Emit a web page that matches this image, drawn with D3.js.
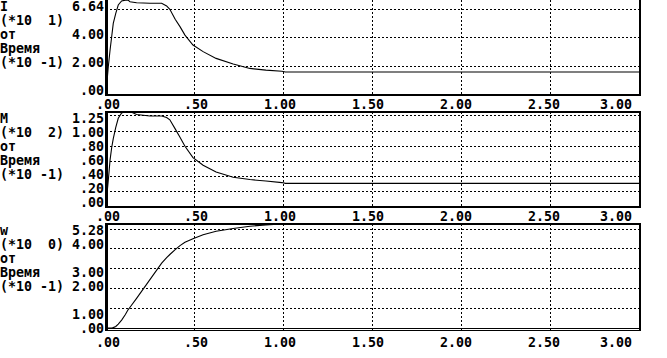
<!DOCTYPE html>
<html><head><meta charset="utf-8">
<script src="https://cdn.jsdelivr.net/npm/d3@7"></script>
<style>
body{margin:0;background:#fff}
svg{display:block}
text{font-family:"DejaVu Sans Mono",monospace;font-weight:bold;font-size:13.3px;fill:#000;white-space:pre}
</style>
</head><body><div id="chart"></div>
<script>
// ---- data ----
const time   = [0, 0.014, 0.024, 0.033, 0.042, 0.056, 0.07, 0.089, 0.11, 0.125, 0.136, 0.173, 0.248, 0.314, 0.342, 0.36, 0.39, 0.417, 0.445, 0.49, 0.547, 0.62, 0.716, 0.81, 0.90, 0.99, 1.01, 1.5, 2.0, 2.5, 3.0];
const seriesI = [0, 2.0, 3.16, 4.09, 5.02, 5.72, 6.3, 6.58, 6.64, 6.64, 6.53, 6.46, 6.42, 6.42, 6.23, 6.0, 5.3, 4.79, 4.2, 3.51, 3.05, 2.58, 2.19, 1.88, 1.76, 1.68, 1.63, 1.63, 1.63, 1.63, 1.63];
const seriesM = [0, 0.35, 0.62, 0.78, 0.9, 1.05, 1.17, 1.24, 1.26, 1.26, 1.26, 1.22, 1.2, 1.2, 1.18, 1.15, 1.03, 0.92, 0.8, 0.65, 0.55, 0.46, 0.39, 0.36, 0.34, 0.32, 0.31, 0.31, 0.31, 0.31, 0.31];
const seriesW = [0, 0, 0, 0, 0.02, 0.08, 0.2, 0.4, 0.68, 0.92, 1.05, 1.5, 2.45, 3.28, 3.56, 3.72, 3.97, 4.17, 4.34, 4.52, 4.72, 4.9, 5.04, 5.15, 5.22, 5.27, 5.28, 5.28, 5.28, 5.28, 5.28];

const xTicks = [0, 0.5, 1, 1.5, 2, 2.5, 3];
const xTickLabels = [".00", ".50", "1.00", "1.50", "2.00", "2.50", "3.00"];
const panelNames = ["I", "M", "w"];
const panelMult = ["(*10  1)", "(*10  2)", "(*10  0)"];
const argWord = "от";
const argName = "Время";
const argMult = "(*10 -1)";
const yMax = [6.64, 1.25, 5.28];
const yGrid = [[2, 4, 6], [0.2, 0.4, 0.6, 0.8, 1.0, 1.2], [1, 2, 3, 4, 5]];
const yTickValues = [[6.64, 4, 2, 0], [1.25, 1.0, 0.8, 0.6, 0.4, 0.2, 0], [5.28, 4, 3, 2, 1, 0]];
const allSeries = [seriesI, seriesM, seriesW];

// ---- layout ----
const W = 667, H = 358, ROW = 14, COL = 8;
const panels = [
  {top: 0.1, bottom: 95.4, row0: 0, topBorder: false, extraBase: 0},
  {top: 112.2, bottom: 206.8, row0: 8, topBorder: true, extraBase: 0},
  {top: 223.7, bottom: 328, row0: 16, topBorder: true, extraBase: 2.2}
];
const x = d3.scaleLinear().domain([0, 3]).range([105.8, 639.5]);
const labelCol = d3.scaleLinear().domain([0, 3]).range([13.5, 79.5]);
const fmt = v => d3.format(".2f")(v).replace(/^0\./, ".");
const baseline = r => r * ROW + 11;

const svg = d3.select("#chart").append("svg").attr("width", W).attr("height", H);
svg.append("rect").attr("width", W).attr("height", H).attr("fill", "#fff");

panels.forEach((p, i) => {
  const y = d3.scaleLinear().domain([0, yMax[i]]).range([p.bottom, p.top]);
  const g = svg.append("g");

  // left description text
  const lines = [panelNames[i], panelMult[i], argWord, argName, argMult];
  lines.forEach((t, k) => {
    g.append("text").attr("x", 0).attr("y", baseline(p.row0 + k)).text(t);
  });

  // y tick labels at character rows
  yTickValues[i].forEach(v => {
    const s = fmt(v);
    const r = Math.floor((y(v) + 1) / ROW);
    g.append("text").attr("x", (13 - s.length) * COL).attr("y", baseline(r)).text(s);
  });

  // grid
  const grid = g.append("g").attr("stroke", "#000").attr("stroke-width", 1)
    .attr("stroke-dasharray", "2,2").attr("shape-rendering", "crispEdges");
  yGrid[i].forEach(v => {
    grid.append("line").attr("x1", x(0)).attr("x2", x(3)).attr("y1", y(v)).attr("y2", y(v));
  });
  xTicks.slice(1, -1).forEach(t => {
    grid.append("line").attr("x1", x(t)).attr("x2", x(t)).attr("y1", y(yMax[i])).attr("y2", y(0) + p.extraBase);
  });

  // curve
  const line = d3.line().x((d, k) => x(time[k])).y(d => y(d));
  g.append("path").datum(allSeries[i]).attr("d", line)
    .attr("fill", "none").attr("stroke", "#000").attr("stroke-width", 1.1);

  // frame
  const fr = g.append("g").attr("stroke", "#000").attr("shape-rendering", "crispEdges");
  const yTop = y(yMax[i]), yBot = y(0) + p.extraBase;
  fr.append("line").attr("x1", x(0) + 0.7).attr("x2", x(0) + 0.7).attr("y1", yTop - 1).attr("y2", yBot + 1).attr("stroke-width", 3);
  fr.append("line").attr("x1", x(3)).attr("x2", x(3)).attr("y1", yTop - 1).attr("y2", yBot + 1).attr("stroke-width", 2);
  if (p.topBorder) fr.append("line").attr("x1", x(0)).attr("x2", x(3) + 1).attr("y1", yTop).attr("y2", yTop).attr("stroke-width", 2);
  if (p.extraBase > 0) {
    fr.append("line").attr("x1", x(0)).attr("x2", x(3) + 1).attr("y1", y(0)).attr("y2", y(0)).attr("stroke-width", 1);
    fr.append("line").attr("x1", x(0)).attr("x2", x(3) + 1).attr("y1", yBot).attr("y2", yBot).attr("stroke-width", 1);
  } else {
    fr.append("line").attr("x1", x(0)).attr("x2", x(3) + 1).attr("y1", yBot).attr("y2", yBot).attr("stroke-width", 2);
  }

  // x tick labels
  const xr = Math.floor((yBot + 1) / ROW) + 1;
  xTicks.forEach((t, k) => {
    const s = xTickLabels[k];
    const col = Math.min(Math.floor(labelCol(t) - s.length / 2), 75);
    g.append("text").attr("x", col * COL).attr("y", baseline(xr)).text(s);
  });
});
</script>
</body></html>
